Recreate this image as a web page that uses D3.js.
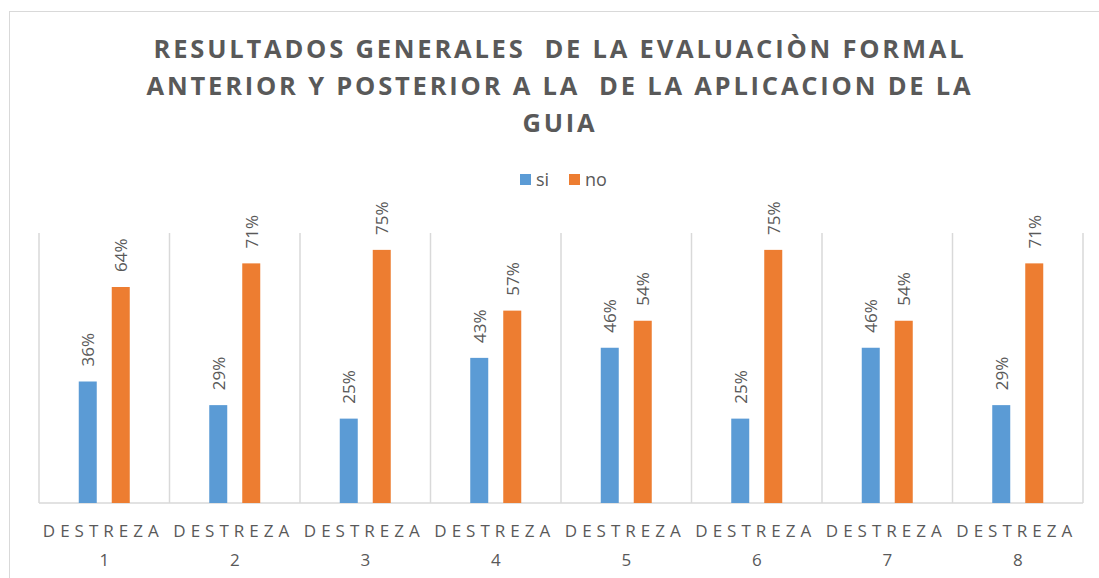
<!DOCTYPE html>
<html>
<head>
<meta charset="utf-8">
<script src="https://cdn.jsdelivr.net/npm/d3@7"></script>
<style>
  body { margin: 0; background: #fff; }
  svg { display: block; font-family: "Open Sans", "Liberation Sans", sans-serif; }
</style>
</head>
<body>
<svg id="chart" width="1099" height="578"></svg>
<script>
const categories = ["1", "2", "3", "4", "5", "6", "7", "8"];
const series = ["si", "no"];
const siValues = [0.36, 0.29, 0.25, 0.43, 0.46, 0.25, 0.46, 0.29];
const noValues = [0.64, 0.71, 0.75, 0.57, 0.54, 0.75, 0.54, 0.71];
const colors = ["#5b9bd5", "#ed7d31"];
const titleLines = [
  "RESULTADOS GENERALES  DE LA EVALUACIÒN FORMAL",
  "ANTERIOR Y POSTERIOR A LA  DE LA APLICACION DE LA",
  "GUIA"
];

const svg = d3.select("#chart");
const grey = "#595959";
const lineCol = "#d9d9d9";

// outer chart border
svg.append("rect")
  .attr("x", 9.5).attr("y", 11.5)
  .attr("width", 1100).attr("height", 600)
  .attr("fill", "none").attr("stroke", lineCol);

const plot = { left: 39, right: 1083, top: 233, bottom: 503 };

const x = d3.scaleBand().domain(categories).range([plot.left, plot.right]);
const y = d3.scaleLinear().domain([0, 0.8]).range([plot.bottom, plot.top]);
const offset = d3.scaleOrdinal().domain(series).range([-16.5, 16.5]);
const barW = 18;

// title
svg.append("g").selectAll("text").data(titleLines).join("text")
  .attr("x", 560)
  .attr("y", (d, i) => 58 + i * 37)
  .attr("text-anchor", "middle")
  .attr("fill", grey)
  .attr("font-size", 25.5)
  .attr("font-weight", "bold")
  .attr("letter-spacing", 2.8)
  .style("white-space", "pre")
  .text((d) => d);

// legend
const legend = svg.append("g").selectAll("g").data(series).join("g")
  .attr("transform", (d, i) => `translate(${520 + i * 49},174)`);
legend.append("rect").attr("width", 11).attr("height", 11).attr("fill", (d, i) => colors[i]);
legend.append("text")
  .attr("x", 16).attr("y", 12)
  .attr("fill", grey).attr("font-size", 18)
  .text((d) => d);

// vertical category gridlines
svg.append("g").selectAll("line").data(d3.range(categories.length + 1)).join("line")
  .attr("x1", (d) => plot.left + d * x.step())
  .attr("x2", (d) => plot.left + d * x.step())
  .attr("y1", plot.top).attr("y2", plot.bottom)
  .attr("stroke", lineCol).attr("stroke-width", 1.5);

// axis line
svg.append("line")
  .attr("x1", plot.left).attr("x2", plot.right)
  .attr("y1", plot.bottom).attr("y2", plot.bottom)
  .attr("stroke", lineCol).attr("stroke-width", 1.5);

const data = categories.flatMap((c, i) => [
  { cat: c, s: "si", v: siValues[i], color: colors[0] },
  { cat: c, s: "no", v: noValues[i], color: colors[1] }
]);

// bars
svg.append("g").selectAll("rect").data(data).join("rect")
  .attr("x", (d) => x(d.cat) + x.bandwidth() / 2 + offset(d.s) - barW / 2)
  .attr("y", (d) => y(d.v))
  .attr("width", barW)
  .attr("height", (d) => plot.bottom - y(d.v))
  .attr("fill", (d) => d.color);

// value labels (rotated)
svg.append("g").selectAll("text").data(data).join("text")
  .attr("transform", (d) => `translate(${x(d.cat) + x.bandwidth() / 2 + offset(d.s) + 6.5},${y(d.v) - 15}) rotate(-90)`)
  .attr("fill", grey)
  .attr("font-size", 17)
  .text((d) => d3.format(".0%")(d.v));

// category labels
const xl = svg.append("g").selectAll("text").data(categories).join("text")
  .attr("text-anchor", "middle")
  .attr("fill", grey)
  .attr("font-size", 17);
xl.append("tspan")
  .attr("x", (d) => x(d) + x.bandwidth() / 2 - 1)
  .attr("y", 537)
  .attr("letter-spacing", 5)
  .text("DESTREZA");
xl.append("tspan")
  .attr("x", (d) => x(d) + x.bandwidth() / 2)
  .attr("y", 566)
  .text((d) => d);
</script>
</body>
</html>
